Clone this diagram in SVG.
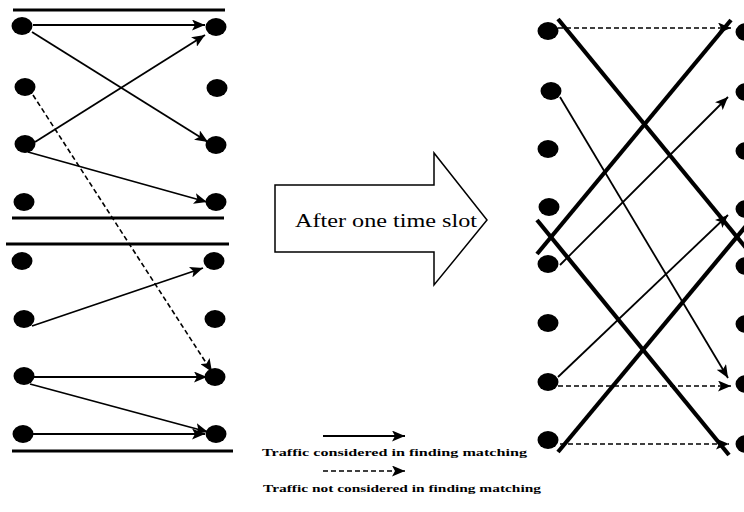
<svg xmlns="http://www.w3.org/2000/svg" width="744" height="512" viewBox="0 0 744 512">
<style>
.n{fill:#000}
.bar{stroke:#000;stroke-width:3.2}
.c{stroke:#000;stroke-width:1.8;fill:none}
.d{stroke:#000;stroke-width:1.6;fill:none;stroke-dasharray:5,3}
.t{stroke:#000;stroke-width:4.2;fill:none}
.lbl{font-family:"Liberation Serif",serif;fill:#000}
</style>
<defs>
<marker id="ah" markerUnits="userSpaceOnUse" markerWidth="15" markerHeight="11" refX="13" refY="5.5" orient="auto">
<path d="M0,0 L13,5.5 L0,11 L3,5.5 Z" fill="#000"/>
</marker>
</defs>
<rect width="744" height="512" fill="#fff"/>
<g id="bars">
<line class="bar" x1="13" y1="10" x2="225" y2="10"/>
<line class="bar" x1="12" y1="218" x2="224" y2="218"/>
<line class="bar" x1="6" y1="244" x2="229" y2="244"/>
<line class="bar" x1="12" y1="451" x2="233" y2="451"/>
</g>
<g id="left-nodes">
<ellipse id="L1" class="n" cx="22" cy="26" rx="10.5" ry="9"/>
<ellipse id="L2" class="n" cx="25" cy="87" rx="10.5" ry="9"/>
<ellipse id="L3" class="n" cx="25" cy="144" rx="10.5" ry="9"/>
<ellipse id="L4" class="n" cx="24" cy="202" rx="10.5" ry="9"/>
<ellipse id="L5" class="n" cx="22" cy="261" rx="10.5" ry="9"/>
<ellipse id="L6" class="n" cx="24" cy="319" rx="10.5" ry="9"/>
<ellipse id="L7" class="n" cx="24" cy="376" rx="10.5" ry="9"/>
<ellipse id="L8" class="n" cx="23" cy="434" rx="10.5" ry="9"/>
<ellipse id="R1" class="n" cx="216" cy="27" rx="10.5" ry="9"/>
<ellipse id="R2" class="n" cx="217" cy="88" rx="10.5" ry="9"/>
<ellipse id="R3" class="n" cx="216" cy="145" rx="10.5" ry="9"/>
<ellipse id="R4" class="n" cx="216" cy="202" rx="10.5" ry="9"/>
<ellipse id="R5" class="n" cx="214" cy="261" rx="10.5" ry="9"/>
<ellipse id="R6" class="n" cx="215" cy="319" rx="10.5" ry="9"/>
<ellipse id="R7" class="n" cx="215" cy="377" rx="10.5" ry="9"/>
<ellipse id="R8" class="n" cx="216" cy="434" rx="10.5" ry="9"/>
</g>
<g id="right-nodes">
<ellipse id="P1" class="n" cx="548" cy="31" rx="10.5" ry="9"/>
<ellipse id="P2" class="n" cx="551" cy="91" rx="10.5" ry="9"/>
<ellipse id="P3" class="n" cx="548" cy="149" rx="10.5" ry="9"/>
<ellipse id="P4" class="n" cx="549" cy="207" rx="10.5" ry="9"/>
<ellipse id="P5" class="n" cx="548" cy="264" rx="10.5" ry="9"/>
<ellipse id="P6" class="n" cx="548" cy="323" rx="10.5" ry="9"/>
<ellipse id="P7" class="n" cx="548" cy="382" rx="10.5" ry="9"/>
<ellipse id="P8" class="n" cx="548" cy="440" rx="10.5" ry="9"/>
<ellipse id="Q1" class="n" cx="746" cy="32" rx="10.5" ry="9"/>
<ellipse id="Q2" class="n" cx="746" cy="92" rx="10.5" ry="9"/>
<ellipse id="Q3" class="n" cx="746" cy="151" rx="10.5" ry="9"/>
<ellipse id="Q4" class="n" cx="746" cy="209" rx="10.5" ry="9"/>
<ellipse id="Q5" class="n" cx="746" cy="266" rx="10.5" ry="9"/>
<ellipse id="Q6" class="n" cx="746" cy="324" rx="10.5" ry="9"/>
<ellipse id="Q7" class="n" cx="746" cy="384" rx="10.5" ry="9"/>
<ellipse id="Q8" class="n" cx="746" cy="444" rx="10.5" ry="9"/>
</g>
<g id="connectors">
<line class="c" x1="33" y1="25" x2="205" y2="25" marker-end="url(#ah)"/>
<line class="c" x1="32" y1="32" x2="208" y2="142" marker-end="url(#ah)"/>
<line class="c" x1="35" y1="142" x2="205" y2="35" marker-end="url(#ah)"/>
<line class="c" x1="28" y1="152" x2="207" y2="202" marker-end="url(#ah)"/>
<line class="d" x1="33" y1="95" x2="212" y2="372" marker-end="url(#ah)"/>
<line class="c" x1="32" y1="326" x2="203" y2="268" marker-end="url(#ah)"/>
<line class="c" x1="33" y1="377" x2="207" y2="377" marker-end="url(#ah)"/>
<line class="c" x1="30" y1="384" x2="208" y2="432" marker-end="url(#ah)"/>
<line class="c" x1="33" y1="434" x2="205" y2="434" marker-end="url(#ah)"/>

<line class="t" x1="558" y1="19" x2="746" y2="248"/>
<line class="t" x1="731" y1="20" x2="537" y2="254"/>
<line class="t" x1="537" y1="220" x2="729" y2="455"/>
<line class="t" x1="558" y1="452" x2="746" y2="226"/>

<line class="d" x1="558" y1="28" x2="731" y2="28" marker-end="url(#ah)"/>
<line class="c" x1="560" y1="97" x2="728" y2="378" marker-end="url(#ah)"/>
<line class="c" x1="560" y1="265" x2="728" y2="97" marker-end="url(#ah)"/>
<line class="c" x1="558" y1="377" x2="728" y2="215" marker-end="url(#ah)"/>
<line class="d" x1="558" y1="386" x2="731" y2="386" marker-end="url(#ah)"/>
<line class="d" x1="560" y1="444" x2="729" y2="444" marker-end="url(#ah)"/>
</g>
<g id="block-arrow">
<path d="M275,185 L434,185 L434,153 L487,220 L434,285 L434,252 L275,252 Z" fill="#fff" stroke="#000" stroke-width="1.5"/>
<text class="lbl" x="295" y="227" font-size="18" textLength="182" lengthAdjust="spacingAndGlyphs">After one time slot</text>
</g>
<g id="legend">
<line class="c" x1="323" y1="436" x2="405" y2="436" marker-end="url(#ah)"/>
<text class="lbl" x="262" y="456" font-size="11" font-weight="bold" textLength="265" lengthAdjust="spacingAndGlyphs">Traffic considered in finding matching</text>
<line class="d" x1="323" y1="471" x2="405" y2="471" marker-end="url(#ah)"/>
<text class="lbl" x="263" y="492" font-size="11" font-weight="bold" textLength="278" lengthAdjust="spacingAndGlyphs">Traffic not considered in finding matching</text>
</g>
</svg>
